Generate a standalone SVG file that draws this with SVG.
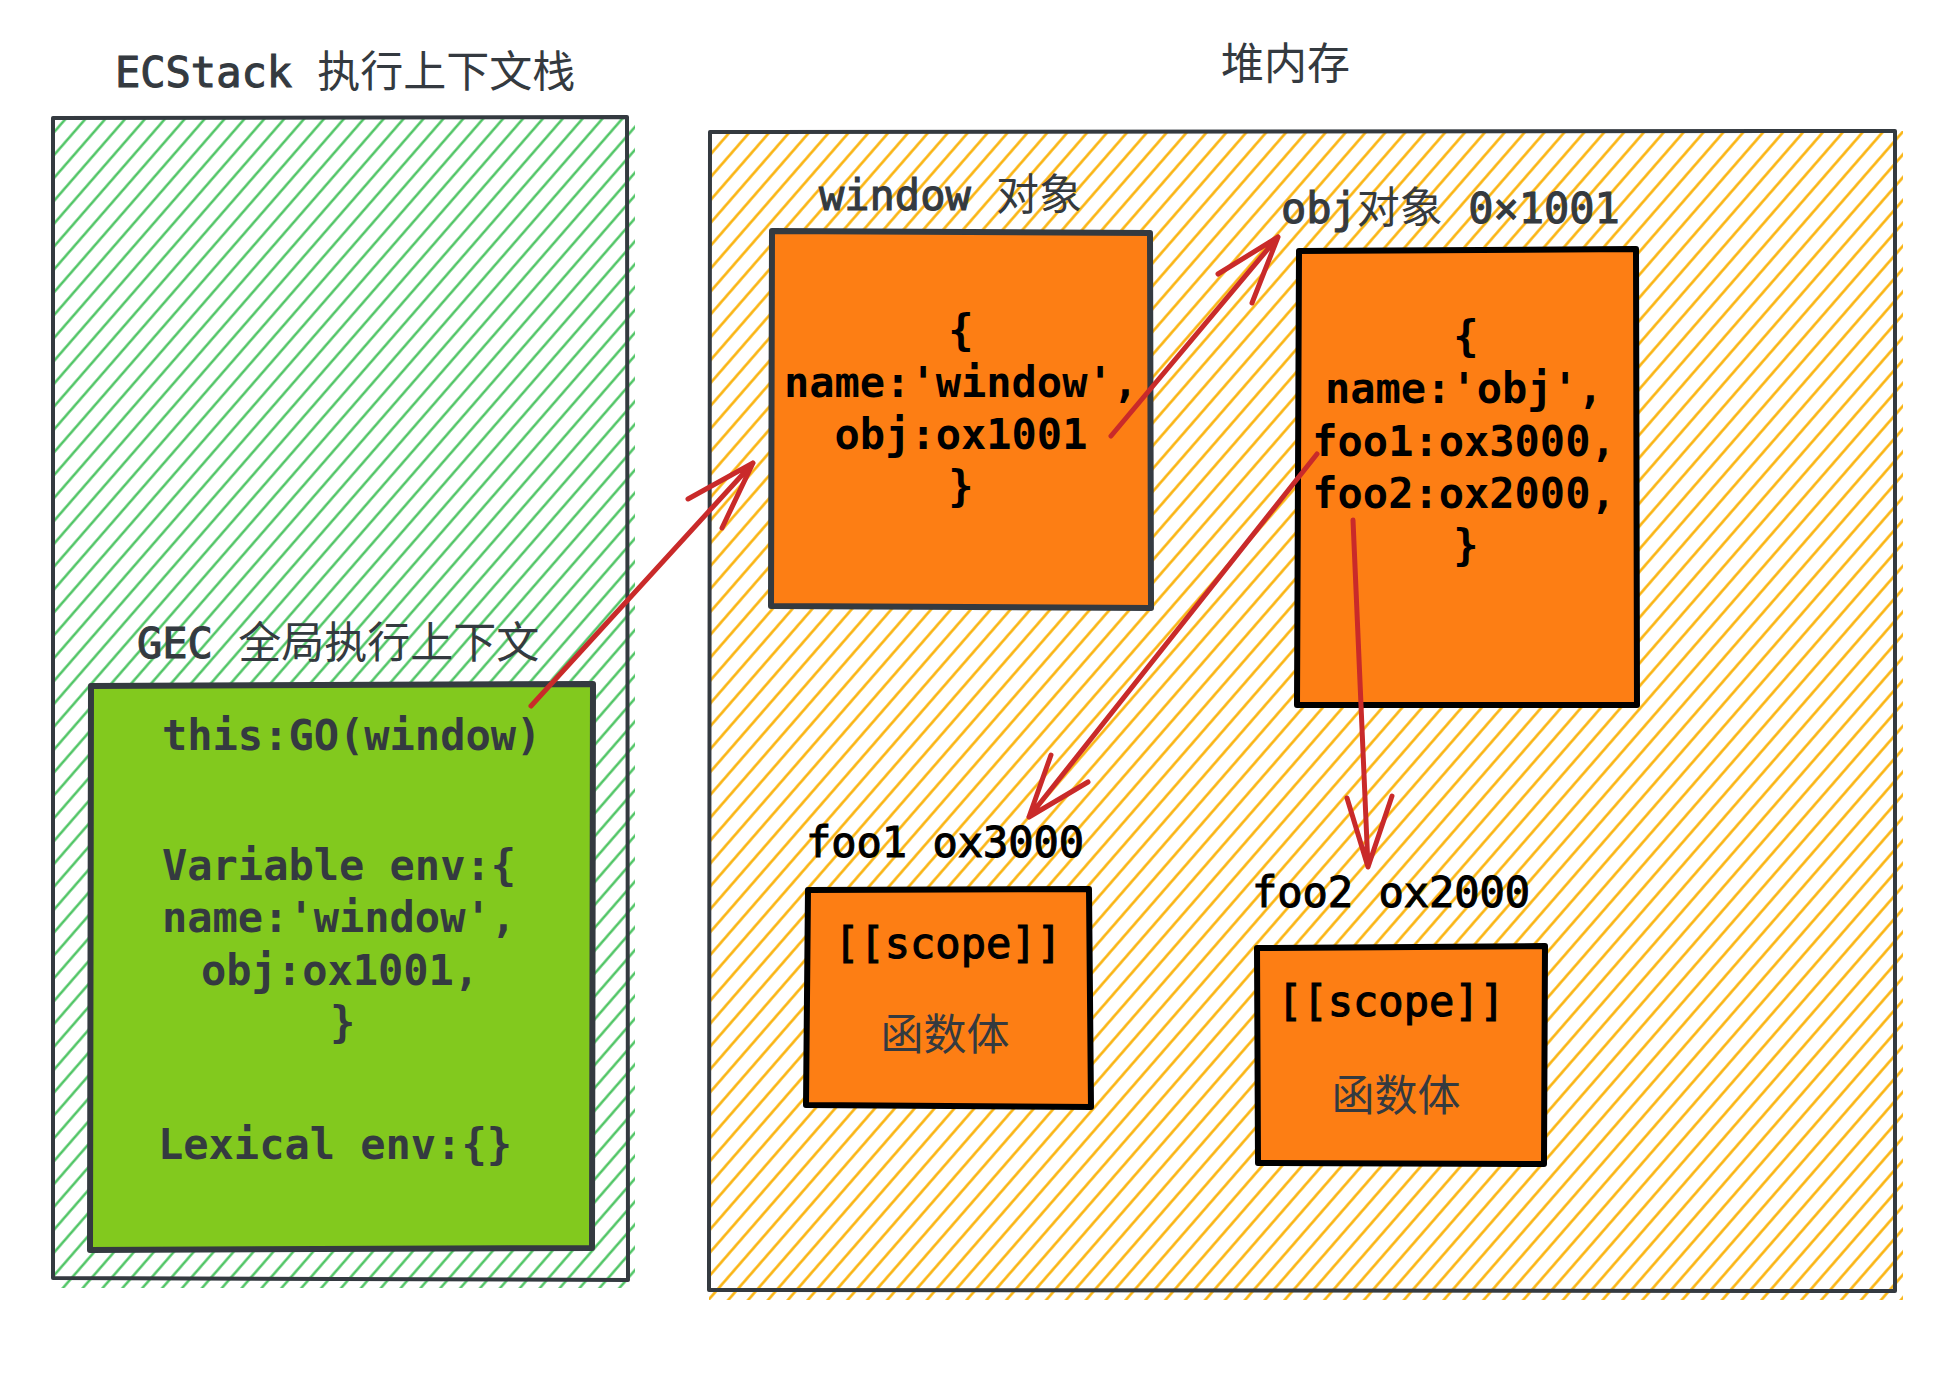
<svg xmlns="http://www.w3.org/2000/svg" width="1958" height="1382" viewBox="0 0 1958 1382">
  <defs>
    <pattern id="hatchGreen" patternUnits="userSpaceOnUse" width="15" height="15" patternTransform="rotate(41)">
      <line x1="7.5" y1="-2" x2="7.5" y2="17" stroke="#40c057" stroke-width="2.3"/>
    </pattern>
    <pattern id="hatchYellow" patternUnits="userSpaceOnUse" width="15" height="15" patternTransform="rotate(41)">
      <line x1="7.5" y1="-2" x2="7.5" y2="17" stroke="#fab005" stroke-width="2.5"/>
    </pattern>
    <style>
      .t { font-family: "DejaVu Sans Mono", "Liberation Mono", "Noto Sans CJK SC", monospace; font-size: 42px; fill: #343a40; font-weight: bold; }
      .lbl { font-weight: normal; stroke: #343a40; stroke-width: 1.1; }
      .lbl.blk { stroke: #000000; }
      .cjk { font-family: "Noto Sans CJK SC", sans-serif; font-weight: normal; font-size: 43px; stroke: none; }
      .blk { fill: #000000; }
      .mid { text-anchor: middle; }
      .frame { fill: none; stroke: #343a40; stroke-width: 4; stroke-linejoin: round; stroke-linecap: round; }
      .box { stroke-width: 6; stroke-linejoin: round; stroke-linecap: round; }
      .orange { fill: #fd7e14; }
      .arrow { fill: none; stroke: #c92a2a; stroke-width: 5; stroke-linecap: round; stroke-linejoin: round; }
    </style>
  </defs>
  <rect width="1958" height="1382" fill="#ffffff"/>

  <!-- Execution context stack -->
  <g id="ecstack">
    <rect x="53" y="118" width="582" height="1170" fill="url(#hatchGreen)"/>
    <path class="frame" d="M53 118 L627 117 L628 1280 L53 1278 Z"/>
    <text class="t lbl" x="115" y="87">ECStack <tspan class="cjk">执行上下文栈</tspan></text>
  </g>

  <!-- Heap memory -->
  <g id="heap">
    <rect x="709" y="131" width="1194" height="1169" fill="url(#hatchYellow)"/>
    <path class="frame" d="M710 132 L1895 131 L1895 1291 L709 1290 Z"/>
    <text class="t cjk" x="1221" y="79">堆内存</text>
  </g>

  <!-- Global execution context -->
  <g id="gec">
    <text class="t lbl" x="137" y="658">GEC <tspan class="cjk">全局执行上下文</tspan></text>
    <path class="box" fill="#82c91e" stroke="#343a40" d="M91 686 L593 684 L592 1248 L90 1250 Z"/>
    <text class="t" x="162" y="750">this:GO(window)</text>
    <text class="t" x="162" y="880">Variable env:{</text>
    <text class="t" x="162" y="932">name:'window',</text>
    <text class="t" x="201" y="985">obj:ox1001,</text>
    <text class="t" x="330" y="1037">}</text>
    <text class="t" x="158" y="1159">Lexical env:{}</text>
  </g>

  <!-- window object -->
  <g id="window-object">
    <text class="t lbl" x="819" y="210">window <tspan class="cjk">对象</tspan></text>
    <path class="box orange" stroke="#343a40" d="M772 231 L1150 233 L1151 608 L771 606 Z"/>
    <text class="t blk mid" x="961" y="345">{</text>
    <text class="t blk mid" x="961" y="397">name:'window',</text>
    <text class="t blk mid" x="961" y="449">obj:ox1001</text>
    <text class="t blk mid" x="961" y="501">}</text>
  </g>

  <!-- obj object -->
  <g id="obj-object">
    <text class="t lbl" x="1281" y="223">obj<tspan class="cjk">对象</tspan> 0×1001</text>
    <path class="box orange" stroke="#000000" d="M1299 251 L1636 249 L1637 705 L1297 705 Z"/>
    <text class="t blk mid" x="1466" y="351">{</text>
    <text class="t blk mid" x="1464" y="403">name:'obj',</text>
    <text class="t blk mid" x="1464" y="456">foo1:ox3000,</text>
    <text class="t blk mid" x="1464" y="508">foo2:ox2000,</text>
    <text class="t blk mid" x="1466" y="560">}</text>
  </g>

  <!-- foo1 function -->
  <g id="foo1">
    <text class="t lbl blk" x="806" y="857">foo1 ox3000</text>
    <path class="box orange" stroke="#000000" d="M808 890 L1089 889 L1091 1107 L806 1105 Z"/>
    <text class="t lbl blk mid" x="948" y="958">[[scope]]</text>
    <text class="t cjk mid" x="945" y="1050">函数体</text>
  </g>

  <!-- foo2 function -->
  <g id="foo2">
    <text class="t lbl blk" x="1252" y="907">foo2 ox2000</text>
    <path class="box orange" stroke="#000000" d="M1257 948 L1545 946 L1544 1164 L1258 1163 Z"/>
    <text class="t lbl blk mid" x="1391" y="1016">[[scope]]</text>
    <text class="t cjk mid" x="1396" y="1111">函数体</text>
  </g>

  <!-- connectors -->
  <g id="connectors">
    <path class="arrow" d="M531 706 L753 463 M688 499 L753 463 L722 528"/>
    <path class="arrow" d="M1111 436 L1278 237 M1218 274 L1278 237 L1252 303"/>
    <path class="arrow" d="M1317 454 L1029 817 M1051 755 L1029 817 L1088 782"/>
    <path class="arrow" d="M1353 520 L1368 867 M1347 798 L1368 867 L1392 796"/>
  </g>
</svg>
